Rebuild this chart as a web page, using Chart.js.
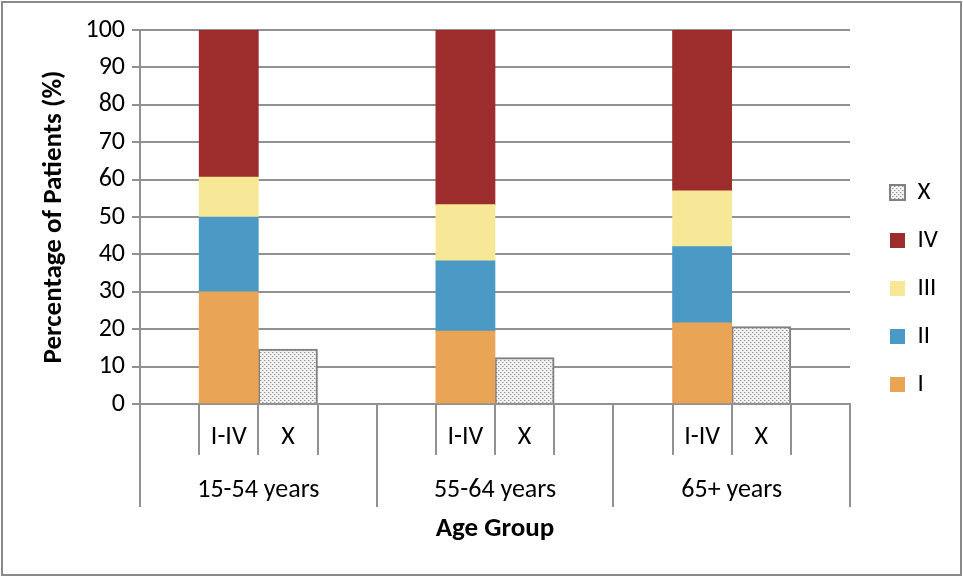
<!DOCTYPE html>
<html>
<head>
<meta charset="utf-8">
<script src="https://cdn.jsdelivr.net/npm/chart.js@4/dist/chart.umd.min.js"></script>
<style>
  html, body { margin: 0; padding: 0; background: #fff; }
  #wrap { width: 963px; height: 577px; }
</style>
</head>
<body>
<div id="wrap"><canvas id="chart" width="963" height="577"></canvas></div>
<script>
// Age groups and the sub-category slots under each group
const ageGroups = ['15-54 years', '55-64 years', '65+ years'];
const slotLabels = ['', 'I-IV', 'X', '', '', 'I-IV', 'X', '', '', 'I-IV', 'X', ''];

// Percentage of patients per stage, one value per age group
const stageI   = [30.0, 19.5, 21.7];
const stageII  = [20.0, 18.8, 20.4];
const stageIII = [10.7, 15.0, 14.9];
const stageIV  = [39.3, 46.7, 43.0];
const stageX   = [14.7, 12.4, 20.7];

const yTicks = { min: 0, max: 100, step: 10 };

const FONT = 'Carlito, Lato, "Liberation Sans", sans-serif';
const GRID = '#919191';
const TICK_SIZE = 26;
const TITLE_SIZE = 27;

// Place one value per age group into its slot (1 = I-IV column, 2 = X column)
function toSlots(values, slot) {
  const out = new Array(slotLabels.length).fill(null);
  values.forEach((v, g) => { out[g * 4 + slot] = v; });
  return out;
}

// Dotted fill used for the unstaged (X) bars
function dotPattern() {
  const c = document.createElement('canvas');
  c.width = 4; c.height = 4;
  const g = c.getContext('2d');
  g.fillStyle = '#f2f2f2';
  g.fillRect(0, 0, 4, 4);
  g.fillStyle = '#9a9a9a';
  g.fillRect(0, 0, 1, 1);
  g.fillRect(2, 2, 1, 1);
  g.fillStyle = '#c8c8c8';
  g.fillRect(1, 0, 1, 1);
  g.fillRect(3, 2, 1, 1);
  return g.createPattern(c, 'repeat');
}

const framePlugin = {
  id: 'frame',
  beforeDraw(chart) {
    const ctx = chart.ctx;
    ctx.save();
    ctx.fillStyle = '#ffffff';
    ctx.fillRect(0, 0, chart.width, chart.height);
    ctx.restore();
  },
  afterDraw(chart) {
    const ctx = chart.ctx;
    ctx.save();
    ctx.strokeStyle = '#8a8a8a';
    ctx.lineWidth = 2;
    ctx.strokeRect(2, 2, chart.width - 4, chart.height - 4);
    ctx.restore();
  }
};

const solid = (label, data, color) => ({
  label, data: toSlots(data, 1), backgroundColor: color,
  borderWidth: 0, barPercentage: 1, categoryPercentage: 1
});

new Chart(document.getElementById('chart'), {
  type: 'bar',
  data: {
    labels: slotLabels,
    datasets: [
      solid('I', stageI, '#E9A456'),
      solid('II', stageII, '#4B9AC5'),
      solid('III', stageIII, '#F7E898'),
      solid('IV', stageIV, '#9C2D2C'),
      {
        label: 'X', data: toSlots(stageX, 2), backgroundColor: dotPattern(),
        borderColor: '#808080', borderWidth: 2, barPercentage: 1, categoryPercentage: 1
      }
    ]
  },
  options: {
    responsive: false,
    animation: false,
    devicePixelRatio: 1,
    layout: { padding: { left: 0, right: 15, top: 30, bottom: 30 } },
    plugins: {
      tooltip: { enabled: false },
      legend: {
        position: 'right',
        reverse: true,
        labels: {
          boxWidth: 15, boxHeight: 15, padding: 23, color: '#000',
          font: { family: FONT, size: TICK_SIZE - 1 }
        }
      }
    },
    scales: {
      x: {
        type: 'category',
        stacked: true,
        offset: true,
        weight: 0,
        grid: { offset: true, drawOnChartArea: false, tickLength: 51, color: GRID, lineWidth: 2 },
        border: { display: true, color: GRID, width: 2 },
        ticks: { color: '#000', font: { family: FONT, size: TICK_SIZE }, padding: -33, maxRotation: 0, autoSkip: false },
        afterFit(scale) { scale.height = 51; }
      },
      x2: {
        type: 'category',
        labels: ageGroups,
        position: 'bottom',
        offset: true,
        weight: 1,
        grid: { offset: true, drawOnChartArea: false, tickLength: 52, color: GRID, lineWidth: 2 },
        border: { display: false },
        ticks: { color: '#000', font: { family: FONT, size: TICK_SIZE }, padding: -32, maxRotation: 0, autoSkip: false },
        title: {
          display: true, text: 'Age Group', color: '#000',
          font: { family: FONT, size: TITLE_SIZE, weight: 'bold' }, padding: { top: 0, bottom: 2 }
        },
        afterFit(scale) { scale.height = 92; }
      },
      y: {
        stacked: true,
        min: yTicks.min,
        max: yTicks.max,
        grid: { color: GRID, lineWidth: 2, tickLength: 8 },
        border: { color: GRID, width: 2 },
        ticks: { stepSize: yTicks.step, color: '#000', font: { family: FONT, size: TICK_SIZE }, padding: 7 },
        title: {
          display: true, text: 'Percentage of Patients (%)', color: '#000',
          font: { family: FONT, size: TITLE_SIZE, weight: 'bold' }, padding: { top: 38, bottom: 0 }
        },
        afterFit(scale) { scale.width = 140; }
      },
      // empty right-hand axis that keeps the legend clear of the plot
      gap: {
        type: 'linear',
        position: 'right',
        display: true,
        grid: { display: false },
        border: { display: false },
        ticks: { display: false },
        afterFit(scale) { scale.width = 17; }
      }
    }
  },
  plugins: [framePlugin]
});
</script>
</body>
</html>
